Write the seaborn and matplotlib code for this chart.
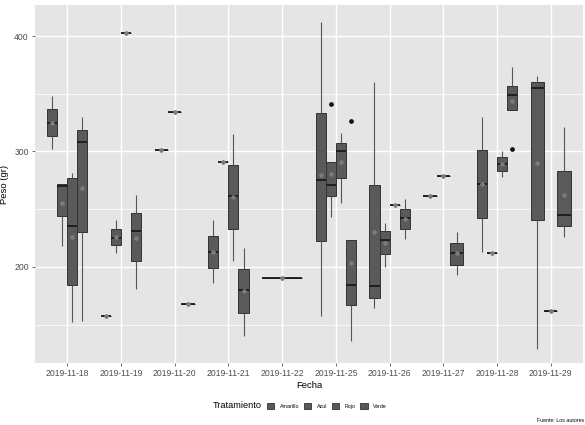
import matplotlib
matplotlib.use("Agg")
import matplotlib.pyplot as plt
from matplotlib.patches import Patch
from matplotlib.ticker import FixedLocator
import seaborn as sns
import pandas as pd

# ---- data ----
fechas = ['2019-11-18', '2019-11-19', '2019-11-20', '2019-11-21', '2019-11-22',
          '2019-11-25', '2019-11-26', '2019-11-27', '2019-11-28', '2019-11-29']
tratamientos = ['Amarillo', 'Azul', 'Rojo', 'Verde']

amarillo = {
    '2019-11-18': [302, 313, 325, 337, 348],
    '2019-11-19': [157],
    '2019-11-20': [301],
    '2019-11-21': [186, 199, 213, 227, 241],
    '2019-11-22': [190],
    '2019-11-25': [157, 222, 275, 333, 412],
    '2019-11-26': [164, 173, 183, 271, 360],
    '2019-11-27': [261],
    '2019-11-28': [213, 242, 272, 301, 330],
    '2019-11-29': [129, 241, 355, 360, 365],
}
azul = {
    '2019-11-18': [218, 244, 270, 272, 272],
    '2019-11-19': [212, 219, 225, 233, 241],
    '2019-11-20': [334],
    '2019-11-21': [291],
    '2019-11-25': [243, 261, 261, 271, 271, 291, 291, 291, 341],
    '2019-11-26': [200, 211, 223, 231, 238],
    '2019-11-27': [279],
    '2019-11-28': [212],
    '2019-11-29': [162],
}
rojo = {
    '2019-11-18': [152, 184, 235, 277, 281],
    '2019-11-19': [403],
    '2019-11-20': [168],
    '2019-11-21': [205, 233, 261, 288, 315],
    '2019-11-25': [255, 277, 300, 307, 316],
    '2019-11-26': [254],
    '2019-11-27': [193, 202, 212, 221, 230],
    '2019-11-28': [278, 283, 289, 295, 300],
    '2019-11-29': [226, 235, 245, 283, 321],
}
verde = {
    '2019-11-18': [153, 230, 308, 319, 330],
    '2019-11-19': [181, 205, 231, 247, 262],
    '2019-11-21': [140, 160, 180, 198, 216],
    '2019-11-25': [136, 167, 167, 184, 184, 223, 223, 223, 326],
    '2019-11-26': [224, 233, 242, 250, 259],
    '2019-11-28': [302, 336, 336, 336, 349, 349, 357, 357, 373],
}

y_ticks = [200, 300, 400]
y_minor = [150, 250, 350]

# ---- build long table ----
rows = []
for trat, d in zip(tratamientos, [amarillo, azul, rojo, verde]):
    for f, vals in d.items():
        for v in vals:
            rows.append({'Fecha': f, 'Tratamiento': trat, 'Peso': v})
df = pd.DataFrame(rows)

# ---- style ----
fill = '#5a5a5a'
palette = {t: fill for t in tratamientos}
plt.rcParams['font.family'] = ['Liberation Sans', 'DejaVu Sans']

fig, ax = plt.subplots(figsize=(5.85, 4.25), dpi=100)
fig.subplots_adjust(left=35 / 585, right=583 / 585, top=1 - 5 / 425, bottom=1 - 363 / 425)
ax.set_facecolor('#E5E5E5')

for f in fechas:
    sub = df[df['Fecha'] == f]
    present = [t for t in tratamientos if t in set(sub['Tratamiento'])]
    sns.boxplot(
        data=sub, x='Fecha', y='Peso', hue='Tratamiento',
        order=fechas, hue_order=present, palette=palette,
        dodge=True, width=0.75, gap=0, saturation=1,
        linecolor='#333333', linewidth=0.7, showcaps=False,
        showmeans=True,
        meanprops=dict(marker='D', markersize=2.0, markerfacecolor='#7b7b7b',
                       markeredgecolor='#7b7b7b'),
        medianprops=dict(color='#1a1a1a', linewidth=1.3),
        whiskerprops=dict(color='#555555', linewidth=0.8),
        flierprops=dict(marker='o', markersize=2.4, markerfacecolor='#111111',
                        markeredgecolor='#111111'),
        legend=False, ax=ax,
    )

ax.set_xlim(-0.6, len(fechas) - 1 + 0.6)
ax.set_ylim(116.7, 426.9)
ax.set_xticks(range(len(fechas)))
ax.set_xticklabels(fechas)
ax.yaxis.set_major_locator(FixedLocator(y_ticks))
ax.yaxis.set_minor_locator(FixedLocator(y_minor))
ax.set_axisbelow(True)
ax.grid(True, which='major', color='white', linewidth=1.0)
ax.grid(True, which='minor', axis='y', color='white', linewidth=0.5)
for s in ax.spines.values():
    s.set_visible(False)
ax.tick_params(axis='both', which='major', length=2.5, width=0.5, color='#333333',
               labelsize=6.2, labelcolor='#4d4d4d', pad=2)
ax.tick_params(axis='y', which='minor', length=0)

ax.set_xlabel('Fecha', fontsize=6.8, color='black', labelpad=2)
ax.set_ylabel('Peso (gr)', fontsize=6.8, color='black')
ax.yaxis.set_label_coords(-0.047, 0.5)

# legend (horizontal, title on the left)
fig.text(213 / 585, 1 - 406 / 425, 'Tratamiento', fontsize=6.6, ha='left', va='center')
handles = [Patch(facecolor=fill, edgecolor='#333333', linewidth=0.6) for _ in tratamientos]
fig.legend(handles, tratamientos, loc='center left',
           bbox_to_anchor=(267 / 585, 1 - 406 / 425), ncol=4, frameon=False,
           fontsize=3.8, handlelength=1.4, handleheight=1.3, handletextpad=1.0,
           columnspacing=0.9, borderpad=0, borderaxespad=0)

fig.text(584 / 585, 1 - 420 / 425, 'Fuente: Los autores', fontsize=3.8, ha='right', va='center')

fig.savefig('out.png', dpi=100)
